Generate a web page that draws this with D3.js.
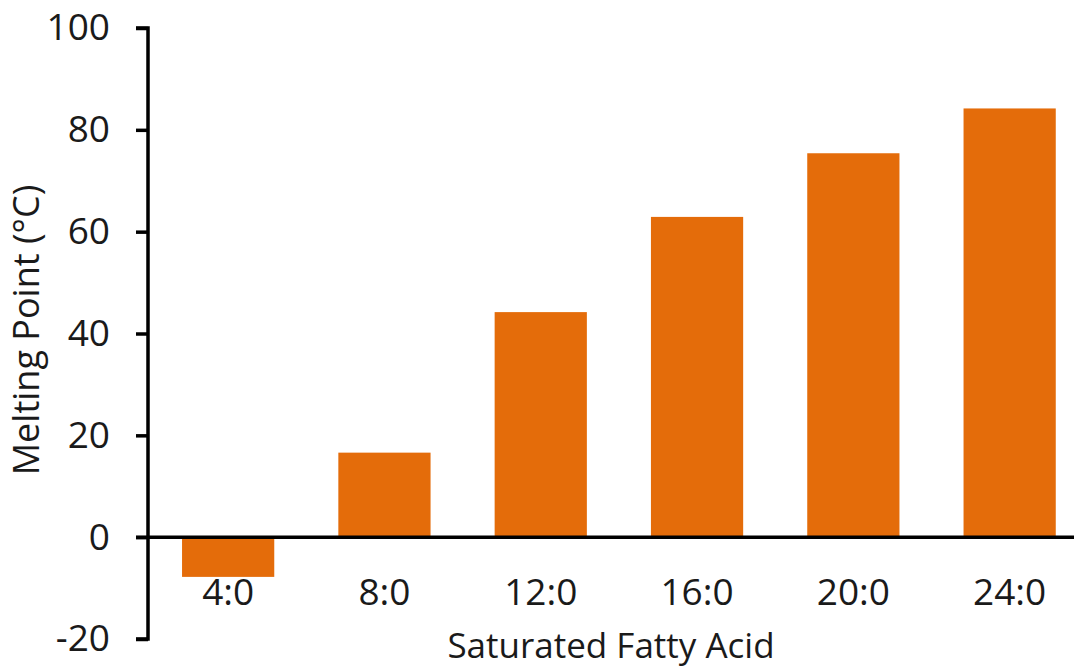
<!DOCTYPE html>
<html>
<head>
<meta charset="utf-8">
<script src="https://cdn.jsdelivr.net/npm/d3@7"></script>
<style>
html,body{margin:0;padding:0;background:#fff;overflow:hidden;}
svg text{font-family:"Open Sans","Noto Sans",sans-serif;fill:#1a1a1a;}
</style>
</head>
<body>
<svg id="chart" width="1074" height="668"></svg>
<script>
const categories = ["4:0", "8:0", "12:0", "16:0", "20:0", "24:0"];
const meltingPoints = [-7.8, 16.6, 44.2, 62.9, 75.4, 84.2];
const yTicks = [-20, 0, 20, 40, 60, 80, 100];
const xTitle = "Saturated Fatty Acid";
const yTitle = "Melting Point (°C)";

const svg = d3.select("#chart");
const W = 1074, H = 668;
const x0 = 150, plotStep = 156.3;

const y = d3.scaleLinear().domain([-20, 100]).range([639, 28]);
const x = d3.scaleBand().domain(categories)
  .range([x0, x0 + plotStep * categories.length])
  .paddingInner(0.41).paddingOuter(0.205);

// bars
svg.append("g").selectAll("rect").data(categories).join("rect")
  .attr("x", d => x(d))
  .attr("width", x.bandwidth())
  .attr("y", (d, i) => y(Math.max(0, meltingPoints[i])))
  .attr("height", (d, i) => Math.abs(y(meltingPoints[i]) - y(0)))
  .attr("fill", "#E46C0A");

// y axis
const yAxis = d3.axisLeft(y).tickValues(yTicks).tickSize(12).tickPadding(26).tickFormat(d => String(d));
const gy = svg.append("g").attr("transform", `translate(${x0 - 2},0)`).call(yAxis);
gy.attr("font-size", null).attr("font-family", null);
gy.select(".domain").attr("stroke", "#000").attr("stroke-width", 3.5)
  .attr("d", `M-12,${y(100)}H0V${y(-20)}H-12`);
gy.selectAll(".tick line").attr("stroke", "#000").attr("stroke-width", 3.5);
gy.selectAll(".tick text").style("font-size", "37px").attr("fill", "#1a1a1a");

// zero line
svg.append("line")
  .attr("x1", x0 - 14).attr("x2", W)
  .attr("y1", y(0)).attr("y2", y(0))
  .attr("stroke", "#000").attr("stroke-width", 3.5);

// x labels
svg.append("g").selectAll("text").data(categories).join("text")
  .attr("x", d => x(d) + x.bandwidth() / 2)
  .attr("y", 605)
  .attr("text-anchor", "middle")
  .style("font-size", "37px")
  .text(d => d);

// axis titles
svg.append("text")
  .attr("x", 611).attr("y", 658)
  .attr("text-anchor", "middle")
  .style("font-size", "35px")
  .text(xTitle);

svg.append("text")
  .attr("transform", `translate(39,330) rotate(-90)`)
  .attr("text-anchor", "middle")
  .style("font-size", "36px")
  .text(yTitle);
</script>
</body>
</html>
